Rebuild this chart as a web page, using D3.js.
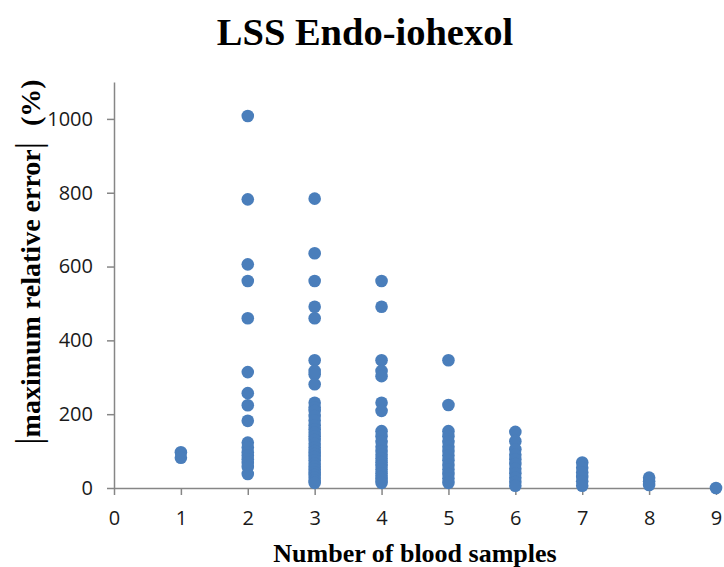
<!DOCTYPE html>
<html>
<head>
<meta charset="utf-8">
<script src="https://cdnjs.cloudflare.com/ajax/libs/d3/7.8.5/d3.min.js"></script>
<style>
    body { margin: 0; background: #fff; }
    .axis path, .axis line { stroke: #868686; stroke-width: 1.5; }
    .axis text { font-family: "Open Sans", sans-serif; font-size: 20px; fill: #1a1a1a; }
    .title, .label { font-family: "Liberation Serif", "Times New Roman", serif; font-weight: bold; fill: #000; }
</style>
</head>
<body>
<svg id="chart" width="724" height="567"></svg>
<script>
var width = 724;
var height = 567;

// number of blood samples (x) and the |maximum relative error| (%) read for each
var sampleCounts = [1, 2, 3, 4, 5, 6, 7, 8, 9];
var err1 = [97, 82];
var err2 = [1008, 782, 606, 561, 460, 314, 257, 224, 182, 123, 110, 97, 88, 78, 68, 57, 38];
var err3 = [784, 636, 561, 491, 460, 346, 317, 308, 281, 231, 218, 209, 195, 183, 170, 159, 150, 140, 130, 120,
            110, 100, 92, 84, 75, 66, 58, 50, 42, 35, 28, 20, 14];
var err4 = [561, 491, 346, 317, 303, 231, 209, 154, 140, 125, 112, 100, 90, 80, 70, 60, 50, 40, 30, 22, 14];
var err5 = [346, 225, 154, 140, 125, 112, 100, 88, 75, 62, 50, 38, 26, 14];
var err6 = [152, 127, 105, 90, 78, 65, 52, 40, 28, 16, 6];
var err7 = [69, 55, 42, 30, 18, 6];
var err8 = [28, 18, 8];
var err9 = [0];
var yTicks = [0, 200, 400, 600, 800, 1000];

var errors = [err1, err2, err3, err4, err5, err6, err7, err8, err9];
var data = [];
sampleCounts.forEach(function(n, i) {
    errors[i].forEach(function(v) {
        data.push({ n: n, err: v });
    });
});

var x = d3.scaleLinear().domain([0, 9]).range([114, 716]);
var y = d3.scaleLinear().domain([0, 1100]).range([488, 82]);

var svg = d3.select('#chart');

svg.append('text')
    .classed('title', true)
    .attr('x', 365)
    .attr('y', 45)
    .attr('text-anchor', 'middle')
    .style('font-size', '38.5px')
    .text('LSS Endo-iohexol');

svg.append('g')
    .classed('axis', true)
    .attr('transform', 'translate(0,' + y(0) + ')')
    .call(d3.axisBottom(x).tickValues(d3.range(0, 10)).tickSize(7).tickPadding(16).tickSizeOuter(0).tickFormat(d3.format('d')));

svg.append('g')
    .classed('axis', true)
    .attr('transform', 'translate(' + x(0) + ',0)')
    .call(d3.axisLeft(y).tickValues(yTicks).tickSize(7).tickPadding(14).tickSizeOuter(0).tickFormat(d3.format('d')));

svg.append('g')
    .selectAll('circle')
    .data(data)
    .join('circle')
    .attr('cx', function(d) { return x(d.n); })
    .attr('cy', function(d) { return y(d.err); })
    .attr('r', 6.3)
    .attr('fill', '#4a7ebb');

svg.append('text')
    .classed('label', true)
    .attr('x', 415)
    .attr('y', 562)
    .attr('text-anchor', 'middle')
    .style('font-size', '26px')
    .text('Number of blood samples');

var yLabel = svg.append('text')
    .classed('label', true)
    .attr('transform', 'translate(40,262) rotate(-90)')
    .attr('text-anchor', 'middle')
    .style('font-size', '28px');
yLabel.append('tspan').style('font-size', '36px').style('font-weight', 'normal').text('|');
yLabel.append('tspan').text('maximum relative error');
yLabel.append('tspan').style('font-size', '36px').style('font-weight', 'normal').text('|');
yLabel.append('tspan').attr('dx', 16).text('(%)');
</script>
</body>
</html>
